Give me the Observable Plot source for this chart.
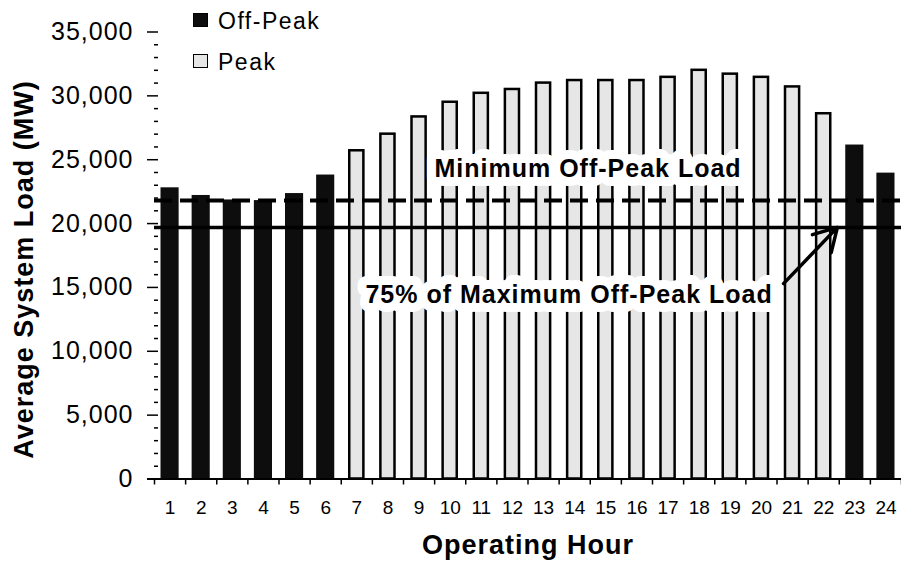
<!DOCTYPE html>
<html>
<head>
<meta charset="utf-8">
<script src="https://cdn.jsdelivr.net/npm/d3@7"></script>
<script src="https://cdn.jsdelivr.net/npm/@observablehq/plot@0.6"></script>
<style>
  html, body { margin: 0; padding: 0; background: #fff; }
  #wrap { position: relative; width: 901px; height: 571px; font-family: "Liberation Sans", Arial, sans-serif; }
  .sw { position: absolute; left: 193px; width: 15px; height: 14px; box-sizing: border-box; }
  .lt { position: absolute; left: 218px; font-size: 23px; line-height: 1; letter-spacing: 1.5px; color: #000; white-space: nowrap; }
  g[aria-label="y-axis tick label"] text { letter-spacing: 1px; }
  g[aria-label="text"] text { letter-spacing: 1px; }
</style>
</head>
<body>
<div id="wrap"></div>
<script>
// ---- data ----
const hours = [1, 2, 3, 4, 5, 6, 7, 8, 9, 10, 11, 12, 13, 14, 15, 16, 17, 18, 19, 20, 21, 22, 23, 24];
const loads = [22800, 22200, 21850, 21800, 22350, 23800, 25700, 27000, 28350, 29500, 30200, 30500, 31000, 31200, 31200, 31200, 31450, 32000, 31700, 31450, 30700, 28600, 26150, 23950];
const periods = ["Off-Peak", "Off-Peak", "Off-Peak", "Off-Peak", "Off-Peak", "Off-Peak",
  "Peak", "Peak", "Peak", "Peak", "Peak", "Peak", "Peak", "Peak", "Peak", "Peak", "Peak", "Peak", "Peak", "Peak", "Peak", "Peak",
  "Off-Peak", "Off-Peak"];
const yMajorTicks = [0, 5000, 10000, 15000, 20000, 25000, 30000, 35000];
const yMinorTicks = d3.range(0, 35001, 1000).filter(v => v % 5000 !== 0);
const hourBoundaries = d3.range(0.5, 25, 1);
const minOffPeakLoad = 21800;
const pctMaxOffPeakLoad = 19700;
const noteTexts = ["Minimum Off-Peak Load", "75% of Maximum Off-Peak Load"];
const noteX = [14.43, 13.82];
const noteY = [24250, 14380];
const arrowFrom = [20.71, 15300];
const arrowTo = [22.44, 19700];
const legendLabels = ["Off-Peak", "Peak"];
const yTitle = "Average System Load (MW)";
const xTitle = "Operating Hour";

const data = hours.map((h, i) => ({hour: h, load: loads[i], period: periods[i]}));
const offPeak = data.filter(d => d.period === "Off-Peak");
const peak = data.filter(d => d.period === "Peak");
const notes = noteTexts.map((t, i) => ({text: t, x: noteX[i], y: noteY[i]}));
const arrows = [{x1: arrowFrom[0], y1: arrowFrom[1], x2: arrowTo[0], y2: arrowTo[1]}];

const peakFill = "#e6e6e6";
const offFill = "#0d0d0d";

const chart = Plot.plot({
  width: 901,
  height: 571,
  marginLeft: 154,
  marginRight: 0,
  marginTop: 31.5,
  marginBottom: 92.5,
  x: {domain: [0.5, 24.5]},
  y: {domain: [0, 35000]},
  style: {fontFamily: '"Liberation Sans", Arial, sans-serif', color: "#000", background: "#fff"},
  marks: [
    Plot.rectY(offPeak, {x1: d => d.hour - 0.5, x2: d => d.hour + 0.5, y1: 0, y2: "load", fill: offFill, insetLeft: 6.5, insetRight: 6.5}),
    Plot.rectY(peak, {x1: d => d.hour - 0.5, x2: d => d.hour + 0.5, y1: 0, y2: "load", fill: peakFill, stroke: "#000", strokeWidth: 2.5, insetLeft: 8.5, insetRight: 8.5}),
    Plot.ruleY([0], {stroke: "#000", strokeWidth: 2, insetLeft: -7}),
    Plot.ruleY([minOffPeakLoad], {stroke: "#000", strokeWidth: 4, strokeDasharray: "18,8"}),
    Plot.ruleY([pctMaxOffPeakLoad], {stroke: "#000", strokeWidth: 3.5}),
    Plot.axisY({ticks: yMajorTicks, tickFormat: d3.format(","), tickSize: 11, tickPadding: 14, fontSize: 25, dx: 4, label: null, strokeWidth: 1.5}),
    Plot.axisY({ticks: yMinorTicks, tickFormat: () => "", tickSize: 4, dx: 4, label: null, strokeWidth: 1.5}),
    Plot.axisX({ticks: hours, tickFormat: d => String(d), tickSize: 0, tickPadding: 21, fontSize: 19, label: null}),
    Plot.axisX({ticks: hourBoundaries, tickFormat: () => "", tickSize: 6, label: null, strokeWidth: 1.5}),
    Plot.text(notes, {x: "x", y: "y", text: "text", fontSize: 25, fontWeight: "bold", fill: "#000", stroke: "#fff", strokeWidth: 18, strokeLinejoin: "round"}),
    Plot.arrow(arrows, {x1: "x1", y1: "y1", x2: "x2", y2: "y2", stroke: "#000", strokeWidth: 3.5, headLength: 14}),
    Plot.text([yTitle], {text: d => d, frameAnchor: "left", textAnchor: "middle", rotate: -90, dx: -130, dy: 14, fontSize: 27, fontWeight: "bold", fill: "#000"}),
    Plot.text([xTitle], {text: d => d, frameAnchor: "bottom", dy: 74.5, fontSize: 27, fontWeight: "bold", fill: "#000"})
  ]
});

const wrap = document.getElementById("wrap");
wrap.appendChild(chart);

// legend (HTML overlay, top-left inside the plot)
const legendTops = [9.5, 50.5];
const swTops = [13, 54];
legendLabels.forEach((lab, i) => {
  const sw = document.createElement("div");
  sw.className = "sw";
  sw.style.top = swTops[i] + "px";
  sw.style.background = i === 0 ? offFill : peakFill;
  sw.style.border = "1.5px solid #000";
  wrap.appendChild(sw);
  const t = document.createElement("div");
  t.className = "lt";
  t.style.top = legendTops[i] + "px";
  t.textContent = lab;
  wrap.appendChild(t);
});
</script>
</body>
</html>
